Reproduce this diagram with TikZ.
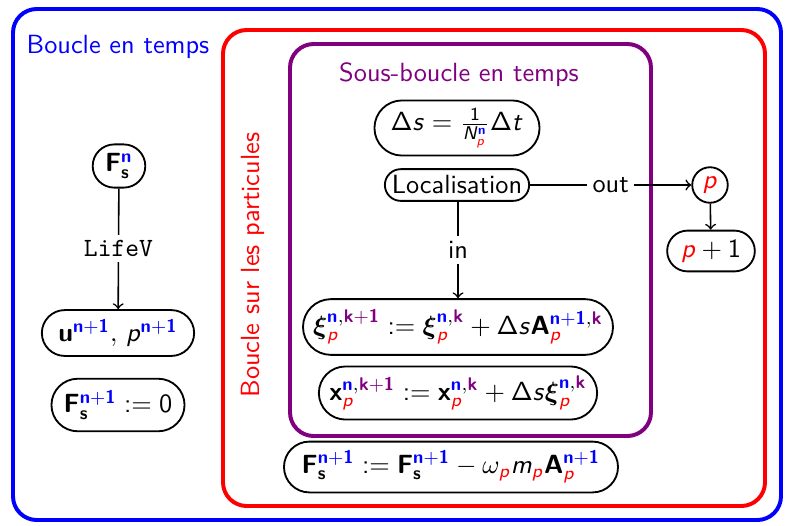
\documentclass[tikz,border=0pt]{standalone}
\usepackage{amsmath}
\usetikzlibrary{shapes.misc}
\renewcommand\familydefault{\sfdefault}
\DeclareSymbolFont{sfletters}{OT1}{cmss}{m}{sl}
\SetSymbolFont{operators}{normal}{OT1}{cmss}{m}{n}
\SetMathAlphabet\mathbf{normal}{OT1}{cmss}{bx}{n}
\DeclareMathSymbol{p}{\mathalpha}{sfletters}{`p}
\DeclareMathSymbol{s}{\mathalpha}{sfletters}{`s}
\DeclareMathSymbol{t}{\mathalpha}{sfletters}{`t}
\DeclareMathSymbol{m}{\mathalpha}{sfletters}{`m}
\DeclareMathSymbol{N}{\mathalpha}{sfletters}{`N}
\definecolor{mypurple}{RGB}{128,0,128}
\newcommand\sB[1]{{\color{blue}\mathbf{#1}}}
\newcommand\sP[1]{{\color{mypurple}\mathbf{#1}}}
\newcommand\pR{{\color{red}p}}
\newcommand\Fs{\mathbf{F}_{\mathbf{s}}}
\begin{document}
\begin{tikzpicture}[x=0.38pt,y=-0.38pt,
  box/.style={draw,rounded rectangle,line width=0.7pt,inner xsep=1.5pt,inner ysep=3.5pt},
  frame/.style={line width=1.5pt,rounded corners=9pt},
  lab/.style={fill=white,inner sep=2pt},
  >=to]
\path[use as bounding box] (0,0) rectangle (785,525);
\draw[frame,blue] (13,9) rectangle (781,520);
\draw[frame,red] (223,30) rectangle (765,506);
\draw[frame,mypurple] (290,44) rectangle (651,436);
\node[blue] (t1) at (118,47) {Boucle en temps};
\node[red,rotate=90] (t2) at (253,265) {Boucle sur les particules};
\node[mypurple] (t3) at (459,75) {Sous-boucle en temps};
% left column
\node[box,minimum width=23pt] (fsn) at (119,166) {$\Fs^{\sB{n}}$};
\node[box,inner xsep=4.5pt] (up) at (118,333) {$\mathbf{u}^{\sB{n+1}},\,p^{\sB{n+1}}$};
\node[box,inner ysep=4.5pt,inner xsep=3pt] (fz) at (118,405) {$\Fs^{\sB{n+1}}:=0$};
\draw[->,line width=0.6pt] (fsn) -- node[lab]{\ttfamily LifeV} (up);
% inner loop
\node[box,inner ysep=3pt,inner xsep=3pt] (ds) at (457,128) {$\Delta s=\frac{1}{N_{\pR}^{\sB{n}}}\Delta t$};
\node[box,inner ysep=2.5pt] (loc) at (457,185) {Localisation};
\node[box,inner ysep=4pt] (xi) at (458,327) {$\boldsymbol{\xi}_{\pR}^{\sB{n},\sP{k+1}}:=\boldsymbol{\xi}_{\pR}^{\sB{n},\sP{k}}+\Delta s\mathbf{A}_{\pR}^{\sB{n+1},\sP{k}}$};
\node[box] (xx) at (458,393) {$\mathbf{x}_{\pR}^{\sB{n},\sP{k+1}}:=\mathbf{x}_{\pR}^{\sB{n},\sP{k}}+\Delta s\boldsymbol{\xi}_{\pR}^{\sB{n},\sP{k}}$};
\node[box,inner xsep=4.5pt] (fs) at (451,467) {$\Fs^{\sB{n+1}}:=\Fs^{\sB{n+1}}-\omega_{\pR}m_{\pR}\mathbf{A}_{\pR}^{\sB{n+1}}$};
\node[draw,circle,line width=0.7pt,inner sep=1.5pt,minimum size=13.5pt] (p) at (710,185) {$\pR$};
\node[box,inner xsep=4pt] (p1) at (711,251) {$\pR+1$};
\draw[->,line width=0.6pt] (loc.south -| xi.north) -- node[lab]{in} (xi.north);
\draw[->,line width=0.6pt] (loc) -- node[lab]{out} (p);
\draw[->,line width=0.6pt] (p) -- (p1);
\end{tikzpicture}
\end{document}
